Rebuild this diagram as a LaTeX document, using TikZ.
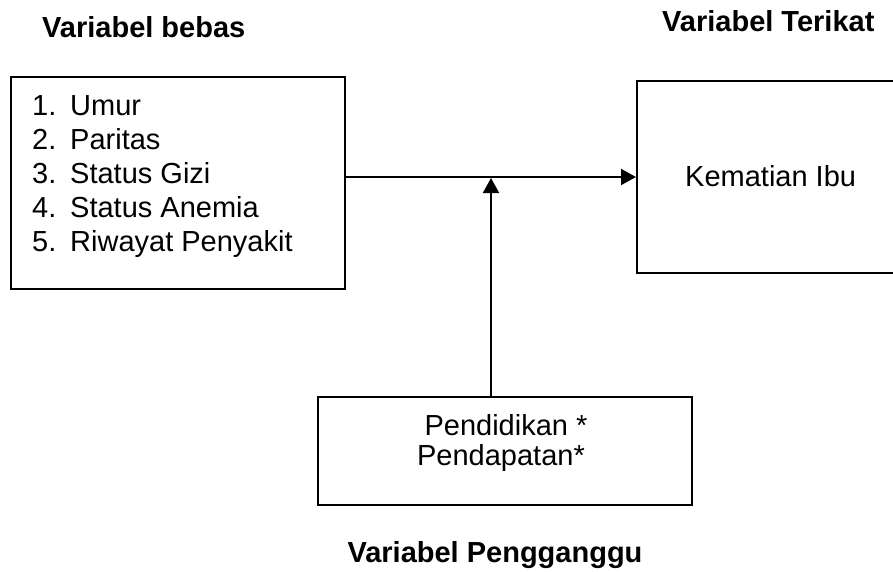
\documentclass[tikz,border=0pt]{standalone}
\usepackage{fontspec}
\setmainfont{Liberation Sans}
\usetikzlibrary{arrows.meta}
\tikzset{
  boxnode/.style={draw, line width=2pt, rectangle, inner sep=0pt},
  txt/.style={anchor=base west, inner sep=0pt, font=\fontsize{29}{35}\selectfont},
  ctxt/.style={anchor=base, inner sep=0pt, font=\fontsize{29}{35}\selectfont},
  ttl/.style={anchor=base west, inner sep=0pt, font=\fontsize{29}{35}\selectfont\bfseries},
  arr/.style={line width=2pt, -{Triangle[length=15pt,width=16pt]}}
}
\begin{document}
\begin{tikzpicture}[x=1pt,y=-1pt]
\useasboundingbox (0,0) rectangle (893,571);
\clip (0,0) rectangle (893,571);
% boxes
\node[boxnode, minimum width=334pt, minimum height=212pt] (left) at (178,183) {};
\node[boxnode, minimum width=300pt, minimum height=192pt] (right) at (787,177) {};
\node[boxnode, minimum width=374pt, minimum height=108pt] (bottom) at (505,451) {};
% titles
\node[ttl] (t1) at (42,37) {Variabel bebas};
\node[ttl] (t2) at (662,31) {Variabel Terikat};
\node[ttl, anchor=base] (t3) at (495,562) {Variabel Pengganggu};
% list
\node[txt] (n1) at (32,115) {1.};
\node[txt] (l1) at (70,115) {Umur};
\node[txt] (n2) at (32,149) {2.};
\node[txt] (l2) at (70,149) {Paritas};
\node[txt] (n3) at (32,183) {3.};
\node[txt] (l3) at (70,183) {Status Gizi};
\node[txt] (n4) at (32,217) {4.};
\node[txt] (l4) at (70,217) {Status Anemia};
\node[txt] (n5) at (32,251) {5.};
\node[txt] (l5) at (70,251) {Riwayat Penyakit};
% right text
\node[txt] (k) at (685,186) {Kematian Ibu};
% bottom text
\node[ctxt] (p1) at (506,435) {Pendidikan *};
\node[ctxt] (p2) at (501,465) {Pendapatan*};
% connectors
\coordinate (j) at (491,178);
\draw[arr] (left.east |- right.west) -- (right.west);
\draw[arr] (bottom.north -| j) -- (j);
\end{tikzpicture}
\end{document}
